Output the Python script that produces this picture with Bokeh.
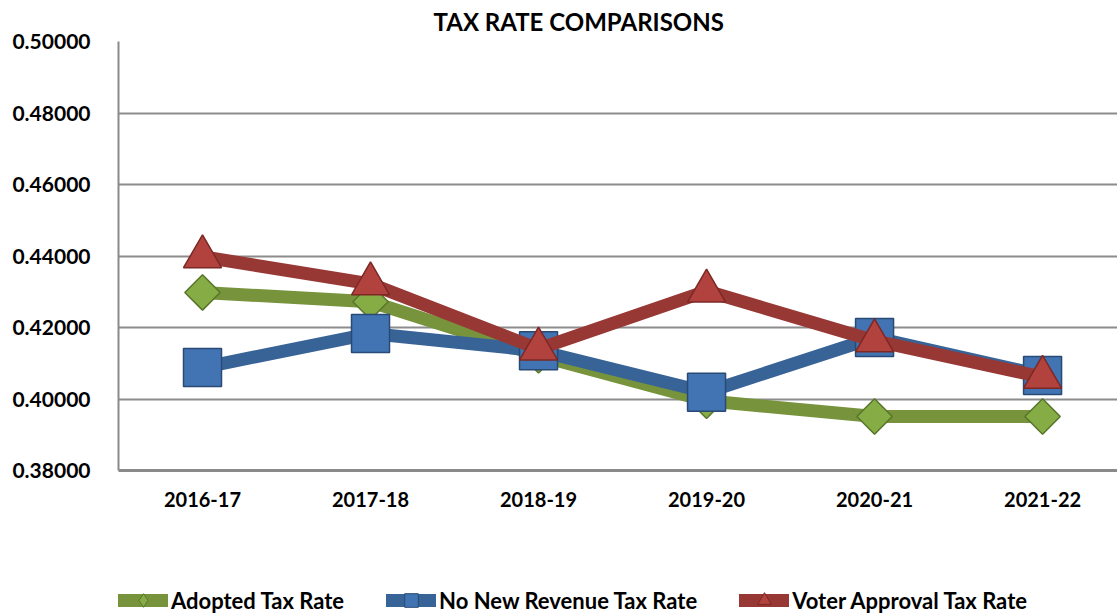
from bokeh.plotting import figure
from bokeh.models import (Legend, LegendItem, FixedTicker, PrintfTickFormatter,
                          ColumnDataSource, Title)
from bokeh.layouts import column
from bokeh.embed import file_html
from bokeh.resources import INLINE
import math

# ---- data ----
categories = ["2016-17", "2017-18", "2018-19", "2019-20", "2020-21", "2021-22"]
adopted = [0.4298, 0.4272, 0.4122, 0.3995, 0.3951, 0.3951]
no_new_revenue = [0.4088, 0.4183, 0.4135, 0.4019, 0.4172, 0.4066]
voter_approval = [0.4398, 0.4322, 0.4140, 0.4302, 0.4163, 0.4061]
y_ticks = [0.38, 0.40, 0.42, 0.44, 0.46, 0.48, 0.50]
series_names = ["Adopted Tax Rate", "No New Revenue Tax Rate", "Voter Approval Tax Rate"]
title_text = "TAX RATE COMPARISONS"

FONT = "Lato"
x_idx = list(range(len(categories)))

p = figure(width=1117, height=580, output_backend="svg", toolbar_location=None,
           x_range=(-0.5, 5.446), y_range=(0.38, 0.50),
           min_border_left=118, min_border_right=0, min_border_top=40,
           min_border_bottom=110)
p.outline_line_color = None
p.background_fill_color = "white"
p.border_fill_color = "white"

p.title = Title(text=title_text, align="left", offset=315, standoff=10,
                vertical_align="middle",
                text_font=FONT, text_font_style="bold", text_font_size="24px",
                text_color="black")

# axes
p.xaxis.ticker = FixedTicker(ticks=x_idx)
p.xaxis.major_label_overrides = {i: c for i, c in zip(x_idx, categories)}
p.yaxis.ticker = FixedTicker(ticks=y_ticks)
p.yaxis.formatter = PrintfTickFormatter(format="%.5f")
for ax in (p.xaxis, p.yaxis):
    ax.major_tick_line_color = None
    ax.minor_tick_line_color = None
    ax.major_tick_out = 0
    ax.major_tick_in = 0
    ax.minor_tick_out = 0
    ax.major_label_text_font = FONT
    ax.major_label_text_font_style = "bold"
    ax.major_label_text_color = "black"
p.yaxis.major_label_text_font_size = "21px"
p.xaxis.major_label_text_font_size = "20px"
p.yaxis.major_label_standoff = 28
p.xaxis.major_label_standoff = 21
p.yaxis.axis_line_color = "#8a8a8a"
p.yaxis.axis_line_width = 2
p.xaxis.axis_line_color = "#8a8a8a"
p.xaxis.axis_line_width = 3

p.xgrid.grid_line_color = None
p.ygrid.ticker = FixedTicker(ticks=y_ticks)
p.ygrid.grid_line_color = "#8c8c8c"
p.ygrid.grid_line_width = 2

# series
styles = [
    dict(data=adopted, line="#77933C", fill="#86AD45", edge="#58752A",
         marker="square", angle=math.pi / 4, size=25, legend_marker="diamond"),
    dict(data=no_new_revenue, line="#386396", fill="#4274B3", edge="#284A74",
         marker="square", angle=0.0, size=38, legend_marker="square"),
    dict(data=voter_approval, line="#983835", fill="#B2423E", edge="#7C2825",
         marker="triangle", angle=0.0, size=38, legend_marker="triangle"),
]

for st in styles:
    src = ColumnDataSource(dict(x=x_idx, y=st["data"]))
    p.line("x", "y", source=src, line_color=st["line"], line_width=13,
           line_join="round", line_cap="round")
    p.scatter("x", "y", source=src, marker=st["marker"], size=st["size"],
              angle=st["angle"], fill_color=st["fill"],
              line_color=st["edge"], line_width=1.5)

# ---- legend strip below the chart ----
lg = figure(width=1117, height=33, output_backend="svg", toolbar_location=None,
            x_axis_type=None, y_axis_type=None, x_range=(0, 1), y_range=(0, 1),
            min_border=0)
lg.outline_line_color = None
lg.grid.grid_line_color = None
items = []
for name, st in zip(series_names, styles):
    # legend-key renderers only: no visible point (NaN position)
    key_src = ColumnDataSource(dict(x=[float("nan")], y=[float("nan")]))
    lr = lg.line("x", "y", source=key_src, line_color=st["line"], line_width=13,
                 line_cap="round")
    sr = lg.scatter("x", "y", source=key_src, marker=st["legend_marker"],
                    fill_color=st["fill"], line_color=st["edge"], line_width=1)
    items.append(LegendItem(label=name, renderers=[lr, sr]))

legend = Legend(items=items, orientation="horizontal", location=(0, -4),
                padding=0, margin=0, spacing=42, glyph_width=50,
                glyph_height=34, label_standoff=3,
                label_text_font=FONT, label_text_font_style="bold",
                label_text_font_size="22px", label_text_color="black",
                border_line_color=None, background_fill_alpha=0)
lg.add_layout(legend, "center")

layout = column(p, lg, spacing=0)
open("out.html", "w").write(file_html(layout, INLINE))
